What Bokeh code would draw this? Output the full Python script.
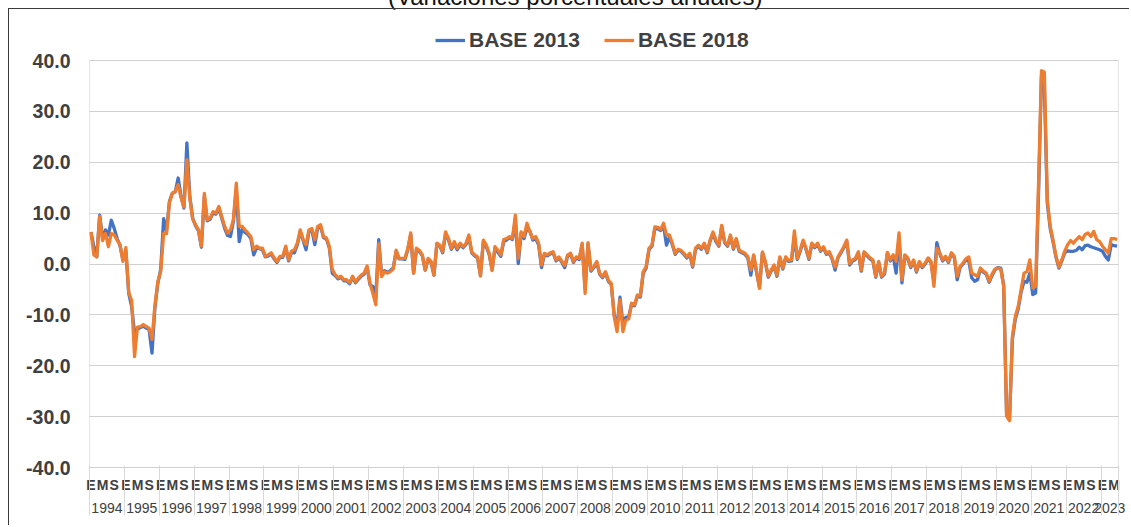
from bokeh.plotting import figure
from bokeh.models import (FixedTicker, NumeralTickFormatter, Legend, LegendItem,
                          Range1d, Div, LinearAxis)
from bokeh.layouts import column
from bokeh.embed import file_html
from bokeh.resources import INLINE

title_text = "(Variaciones porcentuales anuales)"
series_names = ["BASE 2013", "BASE 2018"]
years = [str(y) for y in range(1994, 2024)]
month_marks = ["E", "M", "S"]          # enero, mayo, septiembre
y_ticks = [-40, -30, -20, -10, 0, 10, 20, 30, 40]

# monthly annual % change, Jan-1994 .. Jun-2023 (one row per year)
base_2013 = [
    6.3, 3.4, 1.4, 9.6, 5.0, 6.7, 5.7, 8.6, 7.0, 5.0, 3.6, 0.8,            # 1994
    2.6, -5.8, -8.4, -13.5, -12.8, -12.5, -12.2, -12.6, -12.9, -17.5, -8.6, -3.8,  # 1995
    -1.0, 8.9, 6.5, 12.3, 13.9, 14.2, 16.9, 13.3, 11.0, 23.8, 13.3, 9.0,   # 1996
    7.5, 6.5, 3.3, 13.2, 8.5, 8.8, 10.0, 9.8, 11.0, 9.0, 7.0, 5.6,         # 1997
    5.4, 8.4, 14.5, 4.4, 6.8, 6.2, 5.8, 5.0, 1.8, 3.2, 3.0, 2.8,           # 1998
    1.4, 1.6, 2.0, 1.0, 0.3, 1.3, 1.3, 3.2, 0.6, 2.3, 2.2, 3.8,            # 1999
    6.4, 4.6, 2.8, 6.4, 6.7, 3.8, 7.0, 7.4, 5.2, 4.9, 3.2, -1.8,           # 2000
    -2.3, -2.9, -2.6, -3.3, -3.3, -3.9, -2.6, -3.7, -3.0, -2.4, -2.0, -0.6,  # 2001
    -4.1, -4.4, -6.4, 4.8, -2.3, -1.3, -1.6, -1.3, -0.8, 2.5, 1.0, 1.0,    # 2002
    0.9, 2.8, 5.8, -1.8, 2.9, 2.5, 1.6, -1.2, 0.9, 0.3, -2.2, 3.9,         # 2003
    3.5, 2.2, 6.0, 4.7, 2.9, 4.0, 2.8, 3.8, 3.2, 3.8, 5.3, 2.2,            # 2004
    1.6, 1.2, -2.2, 4.4, 3.4, 1.9, -1.1, 3.1, 2.3, 1.5, 4.4, 4.7,          # 2005
    5.2, 4.8, 8.6, 0.1, 6.0, 5.0, 7.0, 6.5, 4.7, 5.0, 3.8, -0.7,           # 2006
    1.9, 1.6, 2.0, 2.2, 0.6, 1.2, 0.3, -0.7, 1.6, 1.9, 0.3, 1.2,           # 2007
    0.9, 3.8, -4.8, 3.9, -1.4, -0.7, 0.3, -2.0, -2.7, -1.7, -3.4, -4.0,    # 2008
    -10.0, -12.3, -6.5, -11.8, -10.5, -10.4, -7.9, -8.2, -6.3, -6.5, -1.8, -0.8,  # 2009
    2.9, 3.5, 7.0, 6.9, 6.6, 7.5, 3.7, 5.3, 3.8, 1.9, 2.7, 2.5,            # 2010
    1.9, 1.2, 1.9, -0.6, 2.9, 3.5, 2.9, 3.9, 2.2, 4.5, 6.0, 4.4,           # 2011
    3.5, 7.3, 4.2, 3.5, 5.4, 2.9, 4.8, 2.5, 2.2, 1.9, 1.2, -2.2,           # 2012
    1.6, -1.7, -4.6, 2.2, 0.3, -2.6, -1.4, -0.4, -2.4, 1.2, -1.0, 1.2,     # 2013
    0.5, 0.6, 5.3, 0.9, 2.5, 4.5, 2.9, 0.9, 3.9, 3.2, 3.9, 2.5,            # 2014
    3.2, 1.9, 2.2, 0.9, -1.2, 1.2, 2.2, 3.2, 4.5, -0.2, 0.6, 0.9,          # 2015
    2.2, -1.4, 2.2, 1.6, 1.0, 0.6, -2.6, 0.3, -2.6, -2.0, 2.1, 0.6,        # 2016
    1.6, -1.8, 5.1, -3.7, 1.6, 1.0, -0.7, 0.6, -1.6, 0.3, -0.7, 0.0,       # 2017
    1.0, 0.3, -3.4, 4.2, 2.0, 0.6, 1.3, 0.3, 2.0, 1.3, -3.1, -0.7,         # 2018
    0.0, 0.8, 0.6, -2.7, -3.4, -3.1, -1.0, -1.6, -2.0, -3.6, -2.3, -1.2,   # 2019
    -0.7, -0.8, -4.2, -29.6, -30.5, -14.8, -10.8, -8.8, -5.5, -3.4, -3.6, -1.8,  # 2020
    -6.0, -5.7, 14.0, 37.0, 34.5, 12.0, 7.0, 4.3, 1.3, -0.8, 0.6, 2.2,     # 2021
    2.6, 2.5, 2.5, 2.7, 3.3, 2.8, 3.6, 3.7, 3.4, 3.2, 3.0, 2.8,            # 2022
    2.5, 1.5, 0.8, 3.8, 3.6, 3.5,                                          # 2023
]
base_2018 = [
    6.3, 1.8, 1.4, 9.4, 4.6, 6.0, 3.4, 6.0, 5.7, 4.7, 3.8, 0.5,            # 1994
    3.2, -5.6, -7.2, -18.2, -12.4, -12.3, -11.9, -12.3, -12.6, -14.8, -8.2, -3.5,  # 1995
    -1.5, 6.0, 6.0, 12.1, 13.9, 14.3, 15.6, 13.0, 11.2, 20.5, 13.0, 8.8,   # 1996
    7.7, 6.7, 3.5, 13.9, 8.7, 9.0, 10.3, 10.0, 11.3, 9.3, 7.4, 6.1,        # 1997
    6.7, 8.7, 15.9, 7.4, 7.4, 6.7, 6.1, 5.4, 2.8, 3.5, 3.1, 3.1,           # 1998
    1.5, 1.8, 2.2, 1.2, 0.5, 1.5, 1.5, 3.5, 0.8, 2.5, 2.8, 4.1,            # 1999
    6.7, 4.8, 3.8, 6.7, 7.0, 4.8, 7.4, 7.7, 5.4, 5.1, 3.5, -1.1,           # 2000
    -2.1, -2.7, -2.4, -3.1, -3.1, -3.7, -2.4, -3.5, -2.8, -2.2, -1.8, -0.4,  # 2001
    -3.8, -5.8, -8.0, 4.0, -2.5, -1.5, -1.8, -1.5, -1.0, 2.7, 1.1, 1.1,    # 2002
    1.1, 3.0, 6.1, -1.8, 3.1, 2.7, 1.8, -1.2, 1.1, 0.5, -2.2, 4.1,         # 2003
    3.7, 2.4, 6.3, 5.0, 3.1, 4.4, 3.1, 4.1, 3.4, 4.0, 5.7, 2.4,            # 2004
    1.8, 1.4, -2.4, 4.7, 3.7, 2.1, -1.3, 3.4, 2.7, 1.8, 4.8, 5.0,          # 2005
    5.4, 5.0, 9.6, 1.1, 6.3, 5.4, 8.0, 6.3, 5.0, 5.4, 4.1, -0.2,           # 2006
    2.1, 1.8, 2.2, 2.4, 0.8, 1.4, 0.5, -0.3, 1.8, 2.1, 0.5, 1.4,           # 2007
    1.1, 4.1, -5.8, 4.2, -1.2, -0.5, 0.5, -1.8, -2.5, -1.5, -3.2, -3.8,    # 2008
    -10.3, -13.3, -7.0, -13.3, -11.0, -10.8, -7.7, -8.0, -6.1, -6.3, -1.5, -0.5,  # 2009
    3.1, 3.7, 7.3, 7.2, 6.8, 8.0, 5.7, 5.7, 4.1, 2.1, 2.9, 2.7,            # 2010
    2.1, 1.4, 2.1, -0.4, 3.1, 3.7, 3.1, 4.1, 2.4, 4.7, 6.3, 4.7,           # 2011
    3.7, 7.6, 4.4, 3.7, 5.7, 3.1, 5.0, 2.7, 2.4, 2.1, 1.4, -1.2,           # 2012
    1.8, -1.5, -4.8, 2.4, 0.5, -2.4, -1.2, -0.2, -2.2, 1.4, -0.8, 1.4,     # 2013
    0.7, 0.8, 6.5, 1.1, 2.7, 4.7, 3.1, 1.1, 4.1, 3.4, 4.1, 2.7,            # 2014
    3.4, 2.1, 2.4, 1.1, -0.6, 1.4, 2.4, 3.4, 4.7, 0.1, 0.8, 1.1,           # 2015
    2.4, -1.2, 2.4, 1.8, 1.2, 0.8, -2.4, 0.5, -2.4, -1.8, 2.3, 0.8,        # 2016
    1.8, 0.5, 6.1, -3.1, 1.8, 1.2, -0.5, 0.8, -1.4, 0.5, -0.5, 0.2,        # 2017
    1.2, 0.5, -4.4, 3.1, 2.2, 0.8, 1.5, 0.5, 2.2, 1.5, -2.4, -0.5,         # 2018
    0.2, 1.0, 1.4, -1.8, -2.1, -2.4, -0.8, -1.4, -1.8, -3.4, -2.0, -1.0,   # 2019
    -0.8, -1.0, -4.4, -29.9, -30.8, -14.2, -10.3, -8.3, -5.0, -1.8, -1.5, 0.8,  # 2020
    -4.7, -4.4, 16.0, 38.0, 37.7, 12.6, 7.4, 4.6, 1.5, -0.6, 0.8, 2.5,     # 2021
    3.8, 4.6, 4.1, 4.8, 5.4, 4.8, 5.8, 6.1, 5.4, 6.4, 4.8, 4.4,            # 2022
    3.5, 2.8, 2.1, 5.0, 5.0, 4.8,                                          # 2023
]

n = len(base_2013)
xs = list(range(n))
TXT = "#404040"
FONT = "Liberation Sans"
GRID = "#d0d0d0"

# plot area: 40 at the top gridline; extra headroom above it holds the legend
y_lo, y_hi = y_ticks[0], y_ticks[-1]
y_top = y_hi + 40 * (y_hi - y_lo) / 407.0

p = figure(width=1121, height=517, output_backend="svg", toolbar_location=None,
           x_range=Range1d(-0.5, n - 0.5), y_range=Range1d(y_lo, y_top),
           min_border_left=80, min_border_right=12, min_border_top=11,
           min_border_bottom=59, margin=(8, 0, 0, 8))
p.styles = {"border-left": "1px solid #3a3a3a", "border-top": "1px solid #3a3a3a"}
p.background_fill_color = "white"
p.border_fill_color = "white"
p.outline_line_color = None

# vertical borders of the plot area
p.segment(x0=[-0.5, n - 0.5], y0=[y_lo, y_lo], x1=[-0.5, n - 0.5], y1=[y_hi, y_hi],
          line_color=GRID, line_width=1.2)

r13 = p.line(xs, base_2013, line_color="#4472C4", line_width=3.3, line_join="round")
r18 = p.line(xs, base_2018, line_color="#ED7D31", line_width=3.3, line_join="round")

# grid
p.xgrid.visible = False
p.ygrid.ticker = FixedTicker(ticks=y_ticks)
p.ygrid.grid_line_color = GRID
p.ygrid.grid_line_width = 1.2

# y axis
p.yaxis.ticker = FixedTicker(ticks=y_ticks)
p.yaxis.formatter = NumeralTickFormatter(format="0.0")
p.yaxis.axis_line_color = None
p.yaxis.major_tick_line_color = None
p.yaxis.minor_tick_line_color = None
p.yaxis.major_tick_out = 0
p.yaxis.major_tick_in = 0
p.yaxis.major_label_standoff = 19
p.yaxis.major_label_text_font = FONT
p.yaxis.major_label_text_font_size = "19.5px"
p.yaxis.major_label_text_font_style = "bold"
p.yaxis.major_label_text_color = TXT

# x axis 1: month marks E / M / S
mx = [i for i in xs if i % 12 in (0, 4, 8)]
ax_m = p.xaxis[0]
ax_m.ticker = FixedTicker(ticks=mx)
ax_m.major_label_overrides = {i: month_marks[(i % 12) // 4] for i in mx}
ax_m.major_tick_in = 0
ax_m.major_tick_out = 0
ax_m.major_tick_line_color = None
ax_m.minor_tick_line_color = None
ax_m.axis_line_color = GRID
ax_m.axis_line_width = 1.2
ax_m.major_label_standoff = 9
ax_m.major_label_text_font = FONT
ax_m.major_label_text_font_size = "14px"
ax_m.major_label_text_font_style = "bold"
ax_m.major_label_text_color = TXT

# x axis 2: years
yx = []
for k in range(len(years)):
    a = 12 * k
    b = min(12 * k + 11, n - 1)
    yx.append((a + b) / 2)
ax_y = LinearAxis(ticker=FixedTicker(ticks=yx),
                  major_label_overrides={v: t for v, t in zip(yx, years)},
                  major_tick_in=0, major_tick_out=0, major_tick_line_color=None,
                  minor_tick_line_color=None, axis_line_color=None,
                  major_label_standoff=7, major_label_text_font=FONT,
                  major_label_text_font_size="14px", major_label_text_color=TXT)
p.add_layout(ax_y, "below")

# x axis 3: year separators (ticks pointing back up to the plot area)
bounds = [12 * k - 0.5 for k in range(len(years))] + [n - 0.5]
ax_s = LinearAxis(ticker=FixedTicker(ticks=bounds),
                  major_label_overrides={b: " " for b in bounds},
                  major_label_text_font_size="1px", major_label_standoff=0,
                  major_tick_in=50, major_tick_out=0,
                  major_tick_line_color="#d9d9d9", minor_tick_line_color=None,
                  axis_line_color=None)
p.add_layout(ax_s, "below")

legend = Legend(items=[LegendItem(label=series_names[0], renderers=[r13]),
                       LegendItem(label=series_names[1], renderers=[r18])],
                orientation="horizontal", location=(346, 415),
                label_text_font=FONT, label_text_font_size="21px",
                label_text_font_style="bold", label_text_color=TXT,
                glyph_width=30, glyph_height=24, label_height=24,
                label_standoff=4, spacing=24, padding=0, margin=0,
                border_line_color=None, background_fill_alpha=0)
p.add_layout(legend)

title = Div(text=title_text, width=1131, height=17, margin=(-17, 0, 0, 0),
            styles={"font-family": "Liberation Sans, Arial, sans-serif",
                    "font-size": "24px", "line-height": "27px", "color": "#111111",
                    "text-indent": "388px", "white-space": "nowrap"})

layout = column(title, p, spacing=0)
open("out.html", "w").write(file_html(layout, INLINE))
